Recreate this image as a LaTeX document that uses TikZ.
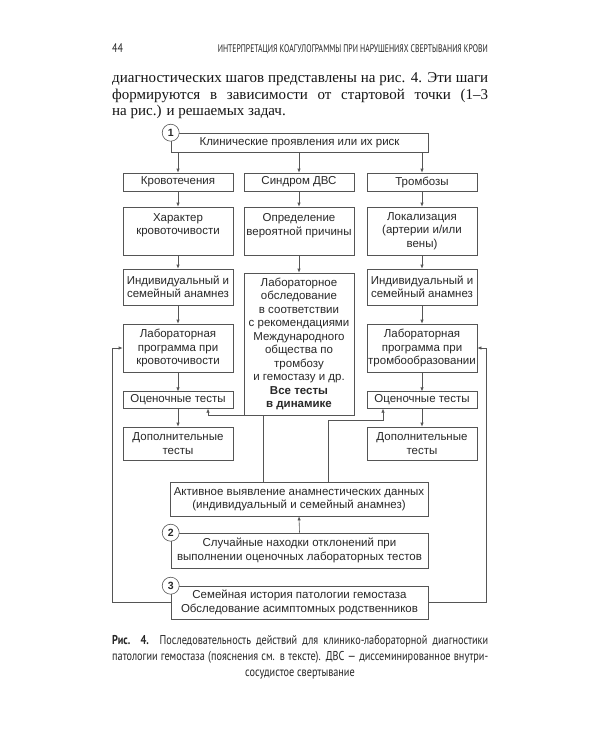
\documentclass[tikz,border=0pt]{standalone}
\usepackage{fontspec}
\setmainfont{Liberation Serif}
\newfontfamily\dsans{Liberation Sans}
\newfontfamily\csans[FakeStretch=0.8]{PT Sans}
\newfontfamily\hsans[FakeStretch=0.7]{PT Sans}
\usetikzlibrary{arrows.meta}
\definecolor{ln}{RGB}{85,85,85}
\definecolor{tx}{RGB}{40,40,40}
\begin{document}
\begin{tikzpicture}[x=1pt,y=-1pt,
  box/.style={draw=ln, line width=0.6pt, fill=white, text=tx, inner sep=1pt, align=center,
    font=\dsans\fontsize{11.5}{13.5}\selectfont},
  arr/.style={draw=ln, line width=0.6pt, -{Latex[length=4pt,width=3.2pt]}},
  circ/.style={circle, draw=ln, line width=0.6pt, fill=white, minimum size=17pt, inner sep=0pt,
    font=\dsans\bfseries\fontsize{10.5}{10.5}\selectfont, text=tx},
  body/.style={anchor=base west, inner sep=0pt, text=black!92, font=\fontsize{15}{16.5}\selectfont},
  capt/.style={anchor=base west, inner sep=0pt, text=black!85, font=\csans\fontsize{12.8}{16}\selectfont},
  head/.style={inner sep=0pt, text=black!85, font=\hsans\fontsize{11}{11}\selectfont}
]
\useasboundingbox (0,0) rectangle (600,750);
\fill[white] (0,0) rectangle (600,750);

% header and body text
\node[head, anchor=base west, font=\csans\fontsize{12.5}{12.5}\selectfont] (pg) at (112,52) {44};
\node[head, anchor=base east] (hd) at (488,52) {ИНТЕРПРЕТАЦИЯ КОАГУЛОГРАММЫ ПРИ НАРУШЕНИЯХ СВЕРТЫВАНИЯ КРОВИ};
\node[body] (p1) at (112,82) {\makebox[376pt][s]{диагностических шагов представлены на рис. 4. Эти шаги}};
\node[body] (p2) at (112,99) {\makebox[376pt][s]{формируются в зависимости от стартовой точки (1–3}};
\node[body] (p3) at (112,115) {на рис.) и решаемых задач.};

% boxes
\node[box, minimum width=257pt, minimum height=19pt] (top) at (299.5,142.5) {Клинические проявления или их риск};

\node[box, minimum width=110pt, minimum height=18pt] (kr) at (178,182) {Кровотечения};
\node[box, minimum width=110pt, minimum height=18pt] (dvs) at (299,182) {Синдром ДВС};
\node[box, minimum width=110pt, minimum height=18pt] (tr) at (422,182) {Тромбозы};

\node[box, minimum width=110pt, minimum height=48pt] (har) at (178,231) {Характер\\кровоточивости\\\mbox{}};
\node[box, minimum width=110pt, minimum height=48pt] (opr) at (299,231) {Определение\\вероятной причины\\\mbox{}};
\node[box, minimum width=110pt, minimum height=48pt] (lok) at (422,231) {Локализация\\(артерии и/или\\вены)};

\node[box, minimum width=110pt, minimum height=36pt] (ind) at (178,287) {Индивидуальный и\\семейный анамнез};
\node[box, minimum width=110pt, minimum height=36pt] (indR) at (422,287) {Индивидуальный и\\семейный анамнез};
\node[box, minimum width=110pt, minimum height=142pt] (labc) at (299,344) {Лабораторное\\обследование\\в соответствии\\с рекомендациями\\Международного\\общества по\\тромбозу\\и гемостазу и др.\\\textbf{Все тесты}\\\textbf{в динамике}};

\node[box, minimum width=110pt, minimum height=48pt] (lp) at (178,348) {Лабораторная\\программа при\\кровоточивости};
\node[box, minimum width=110pt, minimum height=48pt] (lpR) at (422,348) {Лабораторная\\программа при\\тромбообразовании};

\node[box, minimum width=110pt, minimum height=16.5pt] (oc) at (178,400) {Оценочные тесты};
\node[box, minimum width=110pt, minimum height=16.5pt] (ocR) at (422,400) {Оценочные тесты};

\node[box, minimum width=110pt, minimum height=33pt] (dp) at (178,443.5) {Дополнительные\\тесты};
\node[box, minimum width=110pt, minimum height=33pt] (dpR) at (422,443.5) {Дополнительные\\тесты};

\node[box, minimum width=258pt, minimum height=34pt] (act) at (299,499) {Активное выявление анамнестических данных\\(индивидуальный и семейный анамнез)};
\node[box, minimum width=257pt, minimum height=35pt] (b2) at (299.5,550.5) {Случайные находки отклонений при\\выполнении оценочных лабораторных тестов};
\node[box, minimum width=257pt, minimum height=33pt] (b3) at (299.5,602.5) {Семейная история патологии гемостаза\\Обследование асимптомных родственников};

% arrows
\draw[arr] (top.south -| kr.north) -- (kr.north);
\draw[arr] (top.south -| dvs.north) -- (dvs.north);
\draw[arr] (top.south -| tr.north) -- (tr.north);
\draw[arr] (kr.south) -- (har.north);
\draw[arr] (dvs.south) -- (opr.north);
\draw[arr] (tr.south) -- (lok.north);
\draw[arr] (har.south) -- (ind.north);
\draw[arr] (opr.south) -- (labc.north);
\draw[arr] (lok.south) -- (indR.north);
\draw[arr] (ind.south) -- (lp.north);
\draw[arr] (indR.south) -- (lpR.north);
\draw[arr] (lp.south) -- (oc.north);
\draw[arr] (lpR.south) -- (ocR.north);
\draw[arr] (oc.south) -- (dp.north);
\draw[arr] (ocR.south) -- (dpR.north);
\draw[arr] ([xshift=-36pt]act.north) -- ++(0,-66) -| ([xshift=30pt]oc.south);
\draw[arr] ([xshift=29pt]act.north) -- ++(0,-61) -| ([xshift=-39pt]ocR.south);
\draw[arr] (b2.north) -- (act.south);
\draw[arr] (b3.west) -- ++(-58,0) |- (lp.west);
\draw[arr] (b3.east) -- ++(58,0) |- (lpR.east);

% circled numbers
\node[circ] (c1) at (top.north west) {1};
\node[circ] (c2) at (b2.north west) {2};
\node[circ] (c3) at (b3.north west) {3};

% caption
\node[capt] (cp1) at (112,644) {\makebox[376pt][s]{\textbf{Рис. 4.} Последовательность действий для клинико-лабораторной диагностики}};
\node[capt] (cp2) at (112,660) {\makebox[376pt][s]{патологии гемостаза (пояснения см. в тексте). ДВС — диссеминированное внутри-}};
\node[capt, anchor=base] (cp3) at (300,676) {сосудистое свертывание};
\end{tikzpicture}
\end{document}
